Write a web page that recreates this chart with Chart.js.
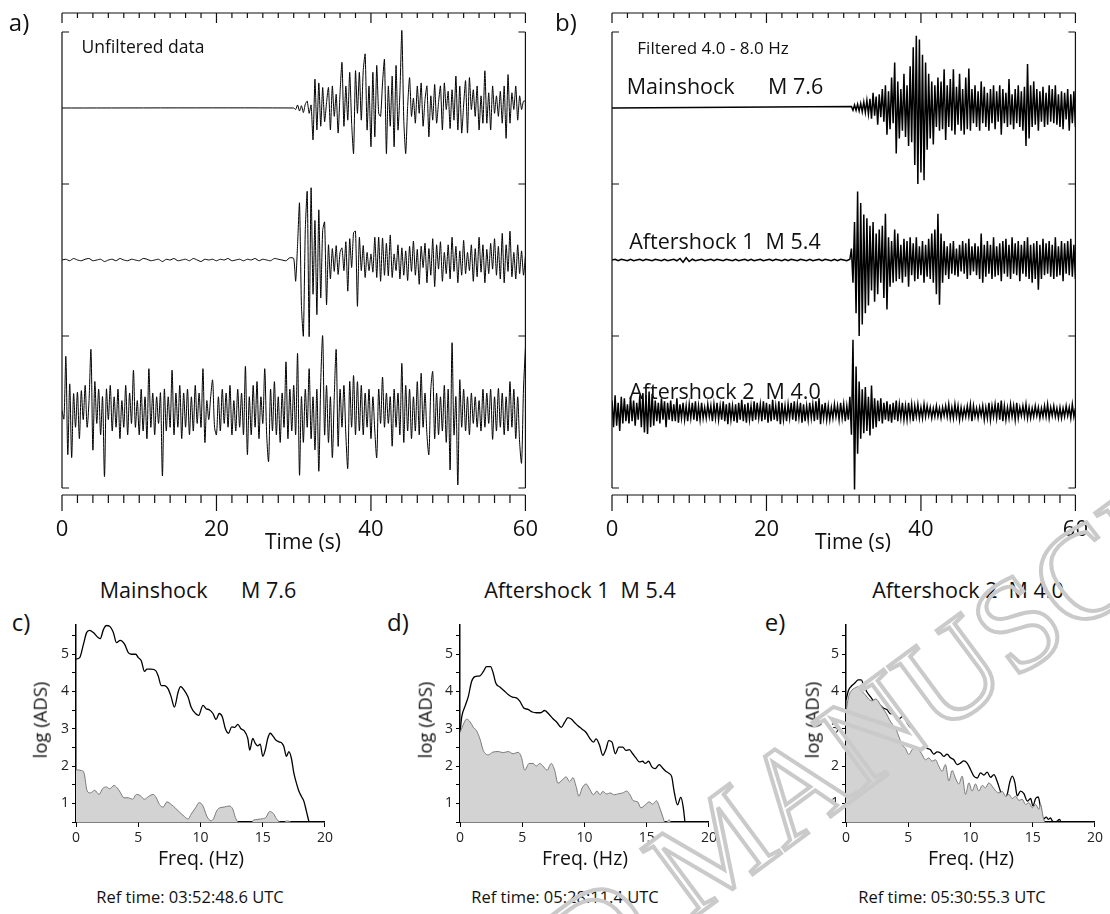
<!DOCTYPE html>
<html>
<head>
<meta charset="utf-8">
<script src="https://cdn.jsdelivr.net/npm/chart.js@4.4.1/dist/chart.umd.min.js"></script>
<style>
  html, body { margin: 0; padding: 0; background: #fff; }
  body { width: 1110px; height: 914px; position: relative; overflow: hidden; font-family: 'Open Sans', sans-serif; color: #111; }
  .box { position: absolute; }
  .lbl { position: absolute; white-space: pre; line-height: 1; transform: translate(-50%, -50%); }
  .rot { transform: translate(-50%, -50%) rotate(-90deg); }
  #wm { position: absolute; left: 115px; top: 1236px; font-family: 'Liberation Serif', serif; font-size: 132px; line-height: 1;
        white-space: pre; color: transparent; -webkit-text-stroke: 4px #cacaca; transform-origin: 0 110px; transform: rotate(-36.5deg); pointer-events: none; }
</style>
</head>
<body>

<div class="box" style="left:0;top:0"><canvas id="chartA" width="560" height="560"></canvas></div>
<div class="box" style="left:550px;top:0"><canvas id="chartB" width="560" height="560"></canvas></div>
<div class="box" style="left:36px;top:613px"><canvas id="chartC" width="300" height="239"></canvas></div>
<div class="box" style="left:420px;top:613px"><canvas id="chartD" width="300" height="239"></canvas></div>
<div class="box" style="left:806px;top:613px"><canvas id="chartE" width="300" height="239"></canvas></div>

<div class="lbl" style="left:19px;top:22px;font-size:24px">a)</div>
<div class="lbl" style="left:566px;top:22px;font-size:24px">b)</div>
<div class="lbl" style="left:143px;top:47px;font-size:17.5px">Unfiltered data</div>
<div class="lbl" style="left:713px;top:47px;font-size:17px">Filtered 4.0 - 8.0 Hz</div>
<div class="lbl" style="left:725px;top:86px;font-size:21.5px">Mainshock      M 7.6</div>
<div class="lbl" style="left:725px;top:241px;font-size:21.5px">Aftershock 1  M 5.4</div>
<div class="lbl" style="left:725px;top:391px;font-size:21.5px">Aftershock 2  M 4.0</div>
<div class="lbl" style="left:303px;top:541px;font-size:21px">Time (s)</div>
<div class="lbl" style="left:853px;top:541px;font-size:21px">Time (s)</div>

<div class="lbl" style="left:198px;top:590px;font-size:21.5px">Mainshock      M 7.6</div>
<div class="lbl" style="left:580px;top:590px;font-size:21.5px">Aftershock 1  M 5.4</div>
<div class="lbl" style="left:968px;top:590px;font-size:21.5px">Aftershock 2  M 4.0</div>
<div class="lbl" style="left:21px;top:622px;font-size:24px">c)</div>
<div class="lbl" style="left:398px;top:622px;font-size:24px">d)</div>
<div class="lbl" style="left:775px;top:622px;font-size:24px">e)</div>
<div class="lbl rot" style="left:40px;top:720px;font-size:18.5px">log (ADS)</div>
<div class="lbl rot" style="left:425px;top:720px;font-size:18.5px">log (ADS)</div>
<div class="lbl rot" style="left:812px;top:720px;font-size:18.5px">log (ADS)</div>
<div class="lbl" style="left:201px;top:858px;font-size:19.5px">Freq. (Hz)</div>
<div class="lbl" style="left:585px;top:858px;font-size:19.5px">Freq. (Hz)</div>
<div class="lbl" style="left:971px;top:858px;font-size:19.5px">Freq. (Hz)</div>
<div class="lbl" style="left:190px;top:897px;font-size:16.5px">Ref time: 03:52:48.6 UTC</div>
<div class="lbl" style="left:565px;top:897px;font-size:16.5px">Ref time: 05:28:11.4 UTC</div>
<div class="lbl" style="left:952px;top:897px;font-size:16.5px">Ref time: 05:30:55.3 UTC</div>

<div id="wm">ACCEPTED MANUSCRIPT</div>

<script>
// ---- seismograms, amplitude in % of half a trace box ----
// a) unfiltered
const a1Start = 30.0, a1Step = 0.25;
const a1Amp = [
  0, -2, 4, -4, 3, -6, 5, 9, -7, 4,
  -42, 38, -29, 33, -24, 27, -18, 7, 27, -29,
  29, -11, 18, -33, 20, 60, -24, 29, -16, 47,
  -20, -60, 49, -7, 47, -16, 49, 71, -29, 29,
  -51, 47, -38, 56, -7, -11, 33, 64, -60, 29,
  -24, 42, -51, 56, -29, 20, 102, -16, -60, 2,
  40, -11, 13, -20, 29, -7, 33, -24, 11, 29,
  -38, 16, -16, 31, -20, 7, 29, -29, 33, -2,
  22, -27, 24, -16, 42, -29, 29, -33, 4, 36,
  -33, 40, -2, 24, -11, 29, -29, 16, -20, 49,
  -20, 20, -29, 29, -7, 16, -11, 22, -20, 29,
  -40, 44, -20, 20, -2, 29, -16, 16, -2, 9,
  9
];

const a2PreStep = 0.5;
const a2Pre = [
  0, 1, -1, 2, 0, -1, 1, 2, -1, 0,
  1, -2, 0, 1, -1, 2, 0, -1, 1, 0,
  -1, 2, 1, -1, 0, 1, -2, 1, 0, 2,
  -1, 0, 1, -1, 2, 0, -2, 1, 0, 1,
  -1, 1, 0, 2, -1, 0, 1, -1, 1, 0,
  2, -1, 1, 0, -1, 2, 1, 0, -1, 3,
  2
];
const a2Start = 30.25, a2Step = 0.25;
const a2Amp = [
  -28, 20, 75, -60, -100, 40, 90, -101, 95, -45,
  52, -72, 66, -50, 39, 50, -59, 20, -25, 15,
  -15, 19, -19, 10, 16, -14, 24, -41, 28, -10,
  36, 38, -61, 30, -14, 19, -23, 10, -14, 8,
  -16, 30, -23, 30, -28, 29, -20, 22, -21, 33,
  -23, 8, -14, 20, -25, 16, -20, 12, -27, 18,
  -15, 25, -20, 14, -32, 18, -10, 22, -30, 15,
  -20, 28, -35, 20, -12, 24, -28, 10, -18, 20,
  -25, 30, -15, 18, -30, 12, -20, 26, -18, 10,
  -14, 20, -28, 15, -22, 30, -16, 20, -30, 14,
  -18, 22, -12, 28, -20, 18, -25, 35, -30, 20,
  -15, 38, -22, 10, -25, 20, -18, 12, -20, 5
];

const a3Start = 0, a3Step = 0.25;
const a3Amp = [
  2, -9, 73, -56, 37, -60, 24, -20, 26, -35,
  28, -10, 35, -20, 15, 82, -50, 40, -15, 30,
  -30, 20, -85, 30, -10, 35, -25, 20, -20, 30,
  -35, 15, -20, 35, -30, 25, -15, 55, -20, 15,
  -30, 30, -25, 20, -35, 57, -20, 25, -30, 20,
  -15, 25, -84, 30, -25, 20, -20, 55, -30, 25,
  -20, 35, -35, 25, -20, 30, -30, 20, -25, 35,
  -15, 25, -20, 57, -40, 15, -10, 20, 42, -20,
  -30, 20, -25, 30, -15, 25, -20, 35, -30, 15,
  -25, 30, -20, 25, -30, 60, -56, 20, -30, 35,
  -20, 40, -35, 20, -15, 57, -30, -65, 30, -25,
  40, -30, 20, -40, 25, -20, 66, -35, 30, -25,
  35, -30, 77, -83, 20, -40, 30, -20, 57, -35,
  20, -50, 30, -78, 40, 100, -30, 35, -40, 20,
  -60, 20, 82, -45, 30, -20, 35, -30, -74, 40,
  -20, 48, -30, 40, -25, 35, -30, 25, -20, 30,
  -35, 20, -25, -60, 30, -15, 46, -20, 25, -15,
  20, -45, 30, -20, 25, -30, 64, -40, 35, -25,
  30, -35, 20, -25, 40, -30, 51, -20, 25, -30,
  -56, 30, 53, -35, 25, -30, 20, -25, 35, -40,
  30, -76, 91, -30, 20, -96, 42, -20, 30, -25,
  20, -30, 25, -15, 20, -20, 15, -25, 30, -20,
  25, -15, 30, -36, 20, -25, 31, -20, 25, -30,
  20, -25, 40, -20, 30, -35, 20, -40, -67, 30,
  84
];

// b) filtered 4-8 Hz
const b1Start = 31.0, b1Step = 0.2;
const b1Amp = [
  2, -3, 4, -3, 5, -4, 6, -5, 8, -6,
  10, -8, 12, -14, 20, -10, 15, -22, 18, -12,
  25, -18, 30, -35, 22, -28, 40, -20, 60, -60,
  35, -40, 25, -30, 45, -38, 30, -50, 55, -45,
  80, -75, 95, -100, 90, -85, 70, -95, 60, -55,
  45, -40, 35, -48, 30, -25, 40, -30, 35, -28,
  51, -42, 30, -25, 38, -30, 51, -35, 28, -22,
  45, -30, 25, -35, 40, -28, 52, -30, 25, -20,
  30, -25, 22, -30, 35, -20, 28, -25, 20, -30,
  25, -20, 30, -28, 22, -18, 30, -35, 25, -20,
  20, -25, 38, -22, 18, -28, 25, -20, 30, -25,
  22, -30, 28, -50, 58, -40, 30, -25, 35, -22,
  25, -30, 22, -18, 28, -25, 20, -22, 30, -18,
  25, -20, 30, -22, 18, -25, 22, -28, 20, -15,
  25, -30, 18, -20, 22, -25
];

const b2PreStep = 0.4;
const b2Pre = [
  0, 1, -1, 1, 0, -1, 1, -1, 0, 1,
  -1, 1, 0, -1, 1, 0, -1, 1, -1, 0,
  1, -1, 2, -3, 3, -2, 1, -1, 0, 1,
  -1, 0, 1, -1, 1, 0, -1, 1, 0, -1,
  1, -1, 0, 1, -1, 1, -1, 0, 1, -1,
  0, 1, -1, 1, 0, -1, 1, -1, 1, 0,
  -1, 1, 0, -1, 1, -1, 0, 1, -1, 1,
  0, -1, 1, -1, 1, 0, -1, 1
];
const b2Start = 31.0, b2Step = 0.2;
const b2Amp = [
  15, -30, 50, -70, 90, -100, 75, -85, 60, -70,
  55, -60, 45, -40, 50, -55, 35, -45, 40, -30,
  45, -50, 61, -65, 30, -35, 25, -30, 40, -28,
  35, -25, 20, -30, 28, -22, 25, -35, 30, -20,
  22, -28, 30, -25, 18, -20, 25, -30, 20, -22,
  28, -25, 35, -30, 40, -45, 61, -59, 35, -30,
  25, -20, 18, -25, 22, -18, 25, -20, 15, -22,
  20, -15, 25, -18, 22, -25, 28, -20, 18, -15,
  22, -20, 18, -25, 35, -30, 20, -22, 25, -18,
  20, -25, 30, -22, 18, -20, 22, -28, 25, -18,
  28, -22, 20, -25, 30, -18, 22, -20, 25, -28,
  20, -18, 25, -22, 30, -25, 20, -30, 22, -25,
  25, -39, 20, -25, 28, -20, 22, -18, 25, -22,
  20, -25, 30, -22, 18, -20, 25, -28, 22, -18,
  25, -20, 28, -22, 20, -25
];

const b3Start = 0, b3Step = 0.2;
const b3Amp = [
  15, -20, 22, -18, 12, -25, 20, -15, 18, -12,
  10, -15, 20, -12, 15, -18, 12, -10, 22, -20,
  25, -27, 22, -29, 27, -20, 24, -18, 15, -12,
  12, -15, 18, -10, 14, -20, 12, -10, 15, -12,
  10, -12, 18, -14, 10, -8, 12, -10, 8, -12,
  10, -8, 12, -10, 14, -12, 8, -10, 12, -8,
  6, -8, 10, -6, 8, -12, 10, -8, 12, -10,
  8, -10, 14, -12, 10, -16, 12, -10, 8, -12,
  10, -14, 12, -10, 16, -12, 10, -14, 12, -10,
  8, -12, 14, -10, 12, -8, 10, -12, 14, -10,
  12, -14, 10, -12, 16, -10, 8, -12, 14, -16,
  12, -10, 8, -12, 10, -8, 12, -10, 14, -12,
  10, -8, 12, -14, 10, -12, 8, -10, 12, -8,
  10, -12, 14, -10, 18, -16, 10, -8, 12, -10,
  8, -10, 6, -8, 10, -6, 8, -10, 12, -8,
  10, -12, 8, -10, 20, -30, 95, -102, 60, -55,
  40, -35, 30, -28, 33, -25, 20, -31, 35, -22,
  18, -20, 15, -12, 18, -15, 12, -10, 14, -12,
  10, -14, 12, -10, 15, -12, 10, -8, 12, -10,
  8, -10, 12, -8, 10, -12, 8, -6, 10, -8,
  6, -8, 10, -6, 8, -5, 6, -8, 5, -6,
  8, -6, 5, -8, 6, -5, 8, -6, 10, -8,
  6, -8, 10, -6, 8, -10, 6, -8, 5, -6,
  8, -6, 10, -12, 8, -6, 5, -8, 6, -5,
  8, -10, 6, -8, 12, -10, 8, -6, 10, -8,
  12, -10, 15, -12, 8, -10, 6, -8, 10, -6,
  8, -10, 12, -8, 6, -5, 8, -6, 10, -8,
  6, -8, 5, -6, 8, -5, 6, -8, 5, -6,
  8, -6, 10, -8, 6, -5, 8, -6, 5, -8,
  6, -8, 5, -6, 8, -5, 6, -8, 10, -6,
  5
];

// trace boxes: each is 200 units tall, centred on these values
const boxEdges = [0, 200, 400, 600];
const traceBase = [500, 300, 100];
const timeTicks = [0, 20, 40, 60];

// ---- amplitude spectra, log(ADS) vs Hz ----
const cEvF = [0, 0.3, 0.6, 0.85, 1.1, 1.4, 1.8, 1.95, 2.2, 2.45, 2.7, 3.0, 3.25, 3.55, 3.9, 4.2, 4.45, 4.8, 5.0, 5.25, 5.5, 5.7, 6.05, 6.4, 6.6, 6.85, 7.1, 7.4, 7.65, 7.9, 8.2, 8.4, 8.7, 9.0, 9.25, 9.6, 9.85, 10.2, 10.45, 10.7, 11.0, 11.25, 11.5, 11.75, 12.0, 12.25, 12.5, 12.75, 13.0, 13.25, 13.5, 13.8, 13.95, 14.2, 14.4, 14.6, 14.8, 15.0, 15.2, 15.4, 15.6, 15.85, 16.05, 16.3, 16.55, 16.7, 16.9, 17.1, 17.3, 17.5, 17.7, 17.9, 18.1, 18.3, 18.5, 18.75];
const cEvV = [4.87, 4.91, 5.27, 5.58, 5.64, 5.58, 5.44, 5.42, 5.66, 5.77, 5.75, 5.58, 5.31, 5.37, 5.27, 5.04, 5.0, 5.0, 4.91, 4.82, 4.54, 4.6, 4.6, 4.56, 4.42, 4.16, 4.16, 4.07, 3.85, 3.58, 3.98, 4.13, 4.03, 3.85, 3.58, 3.41, 3.36, 3.63, 3.54, 3.51, 3.41, 3.25, 3.41, 3.32, 3.0, 2.88, 3.05, 3.04, 3.12, 3.0, 2.95, 2.74, 2.43, 2.74, 2.61, 2.54, 2.59, 2.26, 2.43, 2.74, 2.88, 2.79, 2.7, 2.65, 2.61, 2.52, 2.26, 2.39, 2.21, 1.81, 1.55, 1.33, 1.19, 1.06, 0.8, 0.45];
const cNzF = [0, 0.45, 0.65, 0.9, 1.15, 1.5, 1.85, 2.15, 2.45, 2.7, 3.05, 3.3, 3.55, 3.85, 4.2, 4.55, 4.85, 5.15, 5.5, 5.85, 6.2, 6.45, 6.7, 7.0, 7.3, 7.65, 8.0, 8.35, 8.7, 9.0, 9.25, 9.6, 9.9, 10.2, 10.5, 10.85, 11.05, 11.3, 11.55, 11.9, 12.3, 12.6, 12.8, 13.0, 13.5, 14.0, 14.25, 14.6, 15.0, 15.25, 15.55, 15.85, 16.1, 16.4, 16.7, 16.9, 17.1, 17.3, 17.6, 20];
const cNzV = [1.9, 1.88, 1.81, 1.33, 1.28, 1.35, 1.24, 1.4, 1.44, 1.39, 1.48, 1.42, 1.3, 1.15, 1.15, 1.11, 1.24, 1.21, 1.11, 1.19, 1.24, 1.15, 0.97, 0.9, 1.04, 0.97, 0.87, 0.75, 0.65, 0.58, 0.71, 0.88, 1.02, 0.93, 0.66, 0.53, 0.59, 0.8, 0.88, 0.9, 0.93, 0.84, 0.62, 0.5, 0.35, 0.4, 0.55, 0.57, 0.59, 0.62, 0.78, 0.73, 0.59, 0.49, 0.48, 0.53, 0.52, 0.48, 0.35, 0.3];

const dEvF = [0, 0.15, 0.4, 0.67, 0.93, 1.2, 1.6, 1.87, 2.13, 2.45, 2.67, 2.88, 3.2, 3.52, 3.87, 4.21, 4.53, 4.8, 5.12, 5.47, 5.81, 6.13, 6.45, 6.8, 7.15, 7.47, 7.79, 8.13, 8.4, 8.67, 8.93, 9.2, 9.47, 9.81, 10.13, 10.45, 10.72, 10.93, 11.2, 11.47, 11.73, 11.95, 12.21, 12.48, 12.75, 13.07, 13.33, 13.6, 13.87, 14.13, 14.4, 14.67, 14.88, 15.15, 15.41, 15.68, 16.0, 16.27, 16.53, 16.8, 17.01, 17.2, 17.47, 17.73, 17.92, 18.1];
const dEvV = [2.9, 3.34, 3.6, 3.87, 4.27, 4.4, 4.42, 4.53, 4.67, 4.67, 4.49, 4.22, 4.12, 4.03, 3.92, 3.85, 3.83, 3.74, 3.56, 3.52, 3.45, 3.43, 3.43, 3.49, 3.39, 3.27, 3.17, 3.04, 3.17, 3.3, 3.26, 3.17, 3.08, 2.99, 2.9, 2.73, 2.64, 2.73, 2.57, 2.29, 2.46, 2.68, 2.64, 2.33, 2.51, 2.51, 2.42, 2.44, 2.33, 2.22, 2.11, 2.13, 2.07, 2.13, 1.98, 1.93, 2.04, 1.95, 1.86, 1.8, 1.71, 1.32, 0.96, 1.16, 0.92, 0.4];
const dNzF = [0, 0.27, 0.53, 0.8, 1.07, 1.33, 1.6, 1.87, 2.27, 2.61, 3.07, 3.47, 3.87, 4.27, 4.67, 4.93, 5.2, 5.55, 5.87, 6.13, 6.4, 6.67, 6.99, 7.33, 7.6, 7.87, 8.21, 8.53, 8.8, 9.07, 9.33, 9.55, 9.81, 10.13, 10.45, 10.72, 10.99, 11.25, 11.47, 11.79, 12.05, 12.4, 12.75, 13.07, 13.39, 13.65, 13.92, 14.27, 14.53, 14.88, 15.2, 15.47, 15.79, 16.0, 16.27, 16.48, 16.67, 16.8, 16.93, 17.2];
const dNzV = [2.9, 3.12, 3.26, 3.19, 3.04, 2.95, 2.73, 2.42, 2.3, 2.37, 2.39, 2.36, 2.39, 2.33, 2.37, 2.24, 1.89, 2.07, 2.07, 2.0, 2.07, 2.0, 1.89, 2.07, 1.89, 1.54, 1.63, 1.71, 1.58, 1.69, 1.45, 1.19, 1.41, 1.52, 1.36, 1.23, 1.33, 1.23, 1.32, 1.25, 1.28, 1.23, 1.26, 1.28, 1.33, 1.23, 1.07, 1.04, 0.88, 0.96, 1.04, 0.98, 1.07, 0.92, 0.66, 0.48, 0.52, 0.56, 0.48, 0.3];

const eEvF = [0, 0.21, 0.48, 0.75, 0.97, 1.23, 1.42, 1.69, 1.96, 2.23, 2.49, 2.76, 3.03, 3.3, 3.57, 3.83, 4.1, 4.37, 4.64, 4.91, 5.17, 5.44, 5.71, 5.98, 6.25, 6.51, 6.78, 7.05, 7.32, 7.59, 7.86, 8.12, 8.39, 8.66, 8.93, 9.2, 9.46, 9.73, 10.0, 10.27, 10.54, 10.8, 11.07, 11.34, 11.61, 11.88, 12.14, 12.41, 12.68, 12.95, 13.14, 13.35, 13.57, 13.75, 14.02, 14.29, 14.56, 14.83, 15.01, 15.23, 15.44, 15.63, 15.82, 16.09, 16.25, 16.43, 16.57, 16.84, 17.16, 17.3];
const eEvV = [3.77, 4.04, 4.16, 4.24, 4.31, 4.31, 4.17, 3.98, 3.86, 3.73, 3.62, 3.62, 3.55, 3.51, 3.4, 3.42, 3.24, 3.29, 3.36, 3.16, 3.04, 2.98, 2.84, 2.71, 2.59, 2.48, 2.44, 2.32, 2.38, 2.35, 2.26, 2.32, 2.22, 2.17, 2.04, 2.08, 2.14, 2.08, 1.91, 1.73, 1.68, 1.82, 1.76, 1.84, 1.7, 1.77, 1.59, 1.32, 1.13, 1.24, 1.55, 1.73, 1.55, 1.2, 1.33, 1.26, 1.06, 1.13, 0.93, 1.13, 1.17, 0.88, 0.57, 0.63, 0.57, 0.61, 0.53, 0.5, 0.57, 0.45];
const eNzF = [0, 0.21, 0.48, 0.75, 0.97, 1.23, 1.55, 1.82, 2.09, 2.41, 2.68, 2.95, 3.22, 3.49, 3.75, 4.02, 4.29, 4.5, 4.77, 5.04, 5.31, 5.58, 5.84, 6.11, 6.38, 6.65, 6.92, 7.18, 7.45, 7.72, 7.99, 8.26, 8.53, 8.79, 9.06, 9.33, 9.6, 9.87, 10.13, 10.4, 10.67, 10.94, 11.21, 11.47, 11.74, 12.01, 12.28, 12.55, 12.82, 13.08, 13.35, 13.62, 13.89, 14.16, 14.42, 14.69, 14.96, 15.23, 15.5, 15.63, 15.82, 16.0];
const eNzV = [3.46, 3.86, 4.04, 4.1, 4.13, 4.02, 3.91, 3.8, 3.75, 3.8, 3.69, 3.55, 3.42, 3.24, 3.11, 2.98, 2.75, 2.57, 2.48, 2.31, 2.44, 2.51, 2.44, 2.31, 2.17, 2.22, 2.13, 2.17, 2.0, 1.86, 2.04, 1.6, 1.88, 1.68, 1.52, 1.73, 1.24, 1.55, 1.33, 1.52, 1.33, 1.48, 1.42, 1.55, 1.46, 1.34, 1.28, 1.32, 1.19, 1.24, 1.13, 1.19, 1.08, 1.11, 0.97, 1.02, 0.88, 0.97, 0.84, 0.97, 0.66, 0.45];

Chart.defaults.font.family = "'Open Sans', sans-serif";
Chart.defaults.color = '#111';
Chart.defaults.animation = false;

function samples(start, step, amps, base) {
    return amps.map((a, i) => ({ x: start + i * step, y: base + a }));
}

function traceSet(points, tension, width) {
    return { data: points, borderColor: '#000', borderWidth: width, pointRadius: 0, tension: tension, fill: false };
}

// time axes top and bottom, and the bracket frame round the three boxes
const framePlugin = {
    id: 'frame',
    afterDraw(chart) {
        let ctx = chart.ctx, x = chart.scales.x, y = chart.scales.y;
        let xl = x.getPixelForValue(0), xr = x.getPixelForValue(60);
        let top = chart.chartArea.top, bot = chart.chartArea.bottom;
        ctx.save();
        ctx.strokeStyle = '#111';
        ctx.lineWidth = 1.2;
        ctx.beginPath();
        ctx.moveTo(xl, top); ctx.lineTo(xr, top);
        ctx.moveTo(xl, bot); ctx.lineTo(xr, bot);
        for (let t = 0; t <= 60; t += 2) {
            let px = x.getPixelForValue(t);
            let major = timeTicks.includes(t);
            ctx.moveTo(px, top); ctx.lineTo(px, top + (major ? 10 : 5));
            ctx.moveTo(px, bot); ctx.lineTo(px, bot + (major ? 16 : 8));
        }
        let yTop = y.getPixelForValue(boxEdges[boxEdges.length - 1]);
        let yBot = y.getPixelForValue(boxEdges[0]);
        ctx.moveTo(xl, yTop); ctx.lineTo(xl, yBot);
        ctx.moveTo(xr, yTop); ctx.lineTo(xr, yBot);
        boxEdges.forEach(v => {
            let py = y.getPixelForValue(v);
            ctx.moveTo(xl, py); ctx.lineTo(xl + 7, py);
            ctx.moveTo(xr, py); ctx.lineTo(xr - 7, py);
        });
        ctx.stroke();
        ctx.restore();
    }
};

function seismoChart(id, datasets) {
    new Chart(document.getElementById(id), {
        type: 'line',
        data: { datasets: datasets },
        options: {
            responsive: false,
            parsing: false,
            normalized: true,
            layout: { padding: { left: 62, right: 17, top: 13, bottom: 0 } },
            plugins: { legend: { display: false }, tooltip: { enabled: false } },
            scales: {
                x: {
                    type: 'linear', min: 0, max: 60,
                    afterFit: s => { s.height = 65; },
                    grid: { display: false, drawTicks: false },
                    border: { display: false },
                    ticks: { stepSize: 20, padding: 22, maxRotation: 0, autoSkip: false, color: '#111', font: { size: 22 } }
                },
                y: { type: 'linear', min: -9.2, max: 625, display: false }
            }
        },
        plugins: [framePlugin]
    });
}

seismoChart('chartA', [
    traceSet([{ x: 0, y: traceBase[0] }].concat(samples(a1Start, a1Step, a1Amp, traceBase[0])), 0.2, 1),
    traceSet(samples(0, a2PreStep, a2Pre, traceBase[1]).concat(samples(a2Start, a2Step, a2Amp, traceBase[1])), 0.2, 1),
    traceSet(samples(a3Start, a3Step, a3Amp, traceBase[2]), 0.3, 1)
]);

seismoChart('chartB', [
    traceSet([{ x: 0, y: traceBase[0] }].concat(samples(b1Start, b1Step, b1Amp, traceBase[0])), 0, 1.5),
    traceSet(samples(0, b2PreStep, b2Pre, traceBase[1]).concat(samples(b2Start, b2Step, b2Amp, traceBase[1])), 0, 1.5),
    traceSet(samples(b3Start, b3Step, b3Amp, traceBase[2]), 0, 1.5)
]);

function pairs(fs, vs) {
    return fs.map((f, i) => ({ x: f, y: vs[i] }));
}

function spectrumChart(id, nzF, nzV, evF, evV) {
    new Chart(document.getElementById(id), {
        type: 'line',
        data: {
            datasets: [
                { data: pairs(nzF, nzV), borderColor: '#7a7a7a', borderWidth: 1, backgroundColor: '#d3d3d3', fill: 'start', pointRadius: 0, cubicInterpolationMode: 'monotone' },
                { data: pairs(evF, evV), borderColor: '#000', borderWidth: 1.3, fill: false, pointRadius: 0, cubicInterpolationMode: 'monotone' }
            ]
        },
        options: {
            responsive: false,
            parsing: false,
            layout: { padding: { left: 0, right: 10, top: 10, bottom: 0 } },
            plugins: { legend: { display: false }, tooltip: { enabled: false } },
            scales: {
                x: {
                    type: 'linear', min: 0, max: 20,
                    afterFit: s => { s.height = 30; },
                    grid: { drawOnChartArea: false, color: '#000', tickLength: 5 },
                    border: { color: '#000', width: 1.5 },
                    ticks: { stepSize: 5, padding: 3, maxRotation: 0, autoSkip: false, color: '#222', font: { size: 14 } }
                },
                y: {
                    type: 'linear', min: 0.5, max: 5.8,
                    afterFit: s => { s.width = 40; },
                    grid: { drawOnChartArea: false, color: '#000', tickLength: 4 },
                    border: { color: '#000', width: 1.5 },
                    ticks: { stepSize: 0.5, includeBounds: false, autoSkip: false, padding: 3, color: '#222', font: { size: 14 },
                             callback: v => Number.isInteger(v) ? v : '' }
                }
            }
        }
    });
}

spectrumChart('chartC', cNzF, cNzV, cEvF, cEvV);
spectrumChart('chartD', dNzF, dNzV, dEvF, dEvV);
spectrumChart('chartE', eNzF, eNzV, eEvF, eEvV);
</script>
</body>
</html>
